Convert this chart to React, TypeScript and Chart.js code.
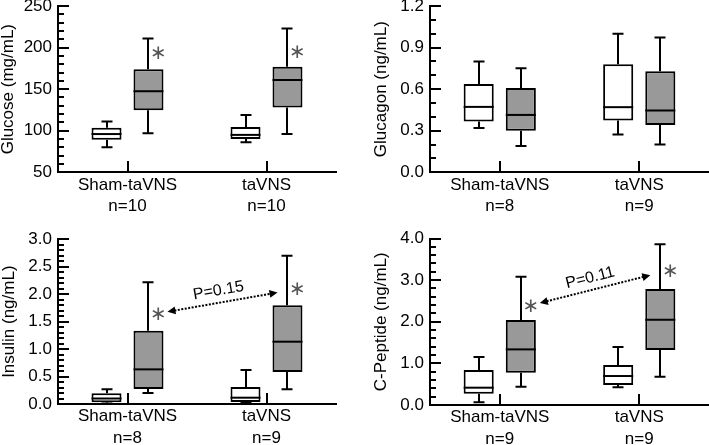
import React, { useEffect, useRef } from "react";
import { Chart, registerables } from "chart.js";

Chart.register(...registerables);

const W = 709;
const H = 445;
const FONT = '"Liberation Sans", Arial, Helvetica, sans-serif';

// ---------- data ----------
const categories = ["Sham-taVNS", "taVNS"];

// each box: [min, q1, median, q3, max]
const glucoseWhite = [[80, 89, 96, 103.5, 111], [86, 90, 95, 104.5, 119]];
const glucoseGrey = [[97, 124.5, 147.5, 174, 211], [96, 128, 161, 177, 223]];
const glucoseN = ["n=10", "n=10"];
const glucoseTicks = [50, 100, 150, 200, 250];
const glucoseStars = [194, 195];

const glucagonWhite = [[0.32, 0.367, 0.472, 0.637, 0.8], [0.273, 0.374, 0.47, 0.78, 1.0]];
const glucagonGrey = [[0.19, 0.3, 0.414, 0.609, 0.75], [0.201, 0.342, 0.446, 0.729, 0.973]];
const glucagonN = ["n=8", "n=9"];
const glucagonTicks = [0, 0.3, 0.6, 0.9, 1.2];

const insulinWhite = [[0.01, 0.03, 0.1, 0.195, 0.27], [0.02, 0.036, 0.115, 0.31, 0.62]];
const insulinGrey = [[0.2, 0.273, 0.631, 1.336, 2.216], [0.267, 0.583, 1.135, 1.8, 2.7]];
const insulinN = ["n=8", "n=9"];
const insulinTicks = [0, 0.5, 1.0, 1.5, 2.0, 2.5, 3.0];
const insulinStars = [1.65, 2.1];
const insulinArrow = [1.68, 2.03];
const insulinP = "P=0.15";

const cpeptideWhite = [[0.064, 0.272, 0.416, 0.84, 1.152], [0.424, 0.48, 0.696, 0.96, 1.392]];
const cpeptideGrey = [[0.44, 0.776, 1.336, 2.04, 3.08], [0.68, 1.32, 2.048, 2.784, 3.864]];
const cpeptideN = ["n=9", "n=9"];
const cpeptideTicks = [0, 1, 2, 3, 4];
const cpeptideStars = [2.4, 3.22];
const cpeptideArrow = [2.45, 3.12];
const cpeptideP = "P=0.11";

// ---------- panels (layout in page pixels) ----------
type Panel = {
  title: string;
  white: number[][];
  grey: number[][];
  n: string[];
  ticks: number[];
  minor: number;
  decimals: number;
  stars?: number[];
  arrow?: number[];
  pText?: string;
  cx: number;
  cy: number;
  cw: number;
  ch: number;
  left: number;
  right: number;
  top: number;
  bottom: number;
  titlePad: number;
};

const panels: Panel[] = [
  {
    title: "Glucose (mg/mL)", white: glucoseWhite, grey: glucoseGrey, n: glucoseN,
    ticks: glucoseTicks, minor: 10, decimals: 0, stars: glucoseStars,
    cx: 0, cy: 0, cw: 355, ch: 222, left: 58, right: 336, top: 6, bottom: 172.3, titlePad: 0,
  },
  {
    title: "Glucagon (ng/mL)", white: glucagonWhite, grey: glucagonGrey, n: glucagonN,
    ticks: glucagonTicks, minor: 0.1, decimals: 1,
    cx: 355, cy: 0, cw: 354, ch: 222, left: 430, right: 709, top: 6, bottom: 172.3, titlePad: 17.5,
  },
  {
    title: "Insulin (ng/mL)", white: insulinWhite, grey: insulinGrey, n: insulinN,
    ticks: insulinTicks, minor: 0.1, decimals: 1, stars: insulinStars, arrow: insulinArrow, pText: insulinP,
    cx: 0, cy: 222, cw: 355, ch: 223, left: 58, right: 336, top: 239.3, bottom: 404, titlePad: 1,
  },
  {
    title: "C-Peptide (ng/mL)", white: cpeptideWhite, grey: cpeptideGrey, n: cpeptideN,
    ticks: cpeptideTicks, minor: 0.2, decimals: 1, stars: cpeptideStars, arrow: cpeptideArrow, pText: cpeptideP,
    cx: 355, cy: 222, cw: 354, ch: 223, left: 430, right: 709, top: 238.5, bottom: 405, titlePad: 17.5,
  },
];

const XH = 40;
const CAP = 11;
const STAR_DX = 10;

function drawArrowHead(ctx: CanvasRenderingContext2D, x: number, y: number, ang: number) {
  const L = 8, hw = 4;
  ctx.beginPath();
  ctx.moveTo(x, y);
  ctx.lineTo(x - L * Math.cos(ang) + hw * Math.sin(ang), y - L * Math.sin(ang) - hw * Math.cos(ang));
  ctx.lineTo(x - L * Math.cos(ang) - hw * Math.sin(ang), y - L * Math.sin(ang) + hw * Math.cos(ang));
  ctx.closePath();
  ctx.fill();
}

// inward axis ticks, positioned through the chart's own scales
function drawInwardTicks(ctx: CanvasRenderingContext2D, chart: any, p: Panel) {
  const ys = chart.scales.y;
  const xs = chart.scales.x;
  const majorLen = 11;
  const minorLen = 6;
  const catLen = 11;
  const min = p.ticks[0];
  const max = p.ticks[p.ticks.length - 1];
  const step = p.ticks[1] - p.ticks[0];
  const count = Math.round((max - min) / p.minor);
  const lx = Math.round(Number(xs.left));
  const by = Math.round(Number(ys.bottom));
  ctx.save();
  ctx.fillStyle = "#000";
  for (let k = 0; k <= count; k++) {
    const v = min + k * p.minor;
    const r = (v - min) / step;
    const isMajor = Math.abs(r - Math.round(r)) < 1e-6;
    const yy = Math.round(Number(ys.getPixelForValue(v)));
    ctx.fillRect(lx, yy - 1, isMajor ? majorLen : minorLen, 2);
  }
  for (let i = 0; i < categories.length; i++) {
    const xx = Math.round(Number(xs.getPixelForValue(i)));
    ctx.fillRect(xx - 1, by - catLen, 2, catLen);
  }
  ctx.restore();
}

function makePlugin(p: Panel) {
  return {
    id: "boxExtras",
    beforeDatasetsDraw(chart: any) {
      const ctx: CanvasRenderingContext2D = chart.ctx;
      const ys = chart.scales.y;
      ctx.save();
      ctx.strokeStyle = "#000";
      ctx.lineWidth = 2;
      [p.white, p.grey].forEach((boxes, di) => {
        const meta = chart.getDatasetMeta(di);
        boxes.forEach((b, i) => {
          const x = Math.round(meta.data[i].x);
          const yMin = ys.getPixelForValue(b[0]);
          const yQ1 = ys.getPixelForValue(b[1]);
          const yQ3 = ys.getPixelForValue(b[3]);
          const yMax = ys.getPixelForValue(b[4]);
          ctx.beginPath();
          ctx.moveTo(x, yQ3);
          ctx.lineTo(x, yMax);
          ctx.moveTo(x - CAP / 2, yMax);
          ctx.lineTo(x + CAP / 2, yMax);
          ctx.moveTo(x, yQ1);
          ctx.lineTo(x, yMin);
          ctx.moveTo(x - CAP / 2, yMin);
          ctx.lineTo(x + CAP / 2, yMin);
          ctx.stroke();
        });
      });
      ctx.restore();
    },
    afterDatasetsDraw(chart: any) {
      const ctx: CanvasRenderingContext2D = chart.ctx;
      const ys = chart.scales.y;
      ctx.save();
      ctx.strokeStyle = "#000";
      ctx.lineWidth = 2;
      [p.white, p.grey].forEach((boxes, di) => {
        const meta = chart.getDatasetMeta(di);
        boxes.forEach((b, i) => {
          const el = meta.data[i];
          const ym = ys.getPixelForValue(b[2]);
          ctx.beginPath();
          ctx.moveTo(el.x - el.width / 2, ym);
          ctx.lineTo(el.x + el.width / 2, ym);
          ctx.stroke();
        });
      });
      ctx.restore();
    },
    afterDraw(chart: any) {
      const ctx: CanvasRenderingContext2D = chart.ctx;
      const ys = chart.scales.y;
      ctx.save();
      const greyMeta = chart.getDatasetMeta(1);
      if (p.stars) {
        ctx.fillStyle = "#555";
        ctx.font = '20px "DejaVu Sans"';
        ctx.textAlign = "center";
        ctx.textBaseline = "alphabetic";
        const m = ctx.measureText("∗");
        const off = (m.actualBoundingBoxAscent - m.actualBoundingBoxDescent) / 2;
        p.stars.forEach((v, i) => {
          const sx = greyMeta.data[i].x + STAR_DX;
          const sy = ys.getPixelForValue(v);
          ctx.fillText("∗", sx, sy + off);
        });
      }
      if (p.arrow && p.pText) {
        const x1 = greyMeta.data[0].x + 19;
        const y1 = ys.getPixelForValue(p.arrow[0]);
        const x2 = greyMeta.data[1].x - 10;
        const y2 = ys.getPixelForValue(p.arrow[1]);
        const ang = Math.atan2(y2 - y1, x2 - x1);
        const c = Math.cos(ang), s = Math.sin(ang);
        ctx.fillStyle = "#000";
        ctx.strokeStyle = "#000";
        ctx.lineWidth = 2;
        ctx.setLineDash([2, 1.5]);
        ctx.beginPath();
        ctx.moveTo(x1 + 7 * c, y1 + 7 * s);
        ctx.lineTo(x2 - 7 * c, y2 - 7 * s);
        ctx.stroke();
        ctx.setLineDash([]);
        drawArrowHead(ctx, x2, y2, ang);
        drawArrowHead(ctx, x1, y1, ang + Math.PI);
        const mx = (x1 + x2) / 2 + 12 * s - 2 * c;
        const my = (y1 + y2) / 2 - 12 * c - 2 * s;
        ctx.translate(mx, my);
        ctx.rotate(ang);
        ctx.font = `16px ${FONT}`;
        ctx.textAlign = "center";
        ctx.textBaseline = "middle";
        ctx.fillText(p.pText, 0, 0);
      }
      ctx.restore();
    },
  };
}

function makeConfig(p: Panel): any {
  const min = p.ticks[0];
  const max = p.ticks[p.ticks.length - 1];
  const step = p.ticks[1] - p.ticks[0];
  const common = {
    borderColor: "#000",
    borderWidth: 2,
    borderSkipped: false,
    categoryPercentage: 0.604,
    barPercentage: 0.714,
  };
  const yW = p.left - p.cx;
  return {
    type: "bar",
    data: {
      labels: categories,
      datasets: [
        { label: "white", data: p.white.map((b) => [b[1], b[3]]), backgroundColor: "#ffffff", ...common },
        { label: "grey", data: p.grey.map((b) => [b[1], b[3]]), backgroundColor: "#999999", ...common },
      ],
    },
    options: {
      responsive: false,
      animation: false,
      events: [],
      layout: {
        autoPadding: false,
        padding: {
          left: 0,
          right: p.cx + p.cw - p.right,
          top: p.top - p.cy,
          bottom: p.cy + p.ch - p.bottom - XH,
        },
      },
      plugins: { legend: { display: false }, tooltip: { enabled: false } },
      scales: {
        x: {
          type: "category",
          offset: true,
          grid: { display: false, drawTicks: false },
          border: { display: true, width: 2, color: "#000" },
          ticks: {
            color: "#000",
            padding: 2,
            maxRotation: 0,
            autoSkip: false,
            font: { family: FONT, size: 17, lineHeight: 1.27 },
            callback: (_v: any, i: number) => [categories[i], p.n[i]],
          },
          afterFit: (s: any) => {
            s.height = XH;
            s.paddingLeft = 0;
            s.paddingRight = 0;
          },
        },
        y: {
          type: "linear",
          min,
          max,
          grid: { display: false, drawTicks: false },
          border: { display: true, width: 2, color: "#000" },
          ticks: {
            stepSize: step,
            color: "#000",
            padding: 6,
            font: { family: FONT, size: 17, lineHeight: 0.7 },
            callback: (v: any) => Number(v).toFixed(p.decimals),
          },
          title: {
            display: true,
            text: p.title,
            color: "#000",
            font: { family: FONT, size: 17, lineHeight: 1 },
            padding: { top: p.titlePad, bottom: 0 },
          },
          afterFit: (s: any) => {
            s.width = yW;
            s.paddingTop = 0;
            s.paddingBottom = 0;
          },
        },
      },
    },
    plugins: [makePlugin(p)],
  };
}

function PanelChart({ panel }: { panel: Panel }) {
  const ref = useRef<HTMLCanvasElement>(null);
  const ovRef = useRef<HTMLCanvasElement>(null);
  useEffect(() => {
    const chart = new Chart(ref.current as HTMLCanvasElement, makeConfig(panel));
    const ov = ovRef.current as HTMLCanvasElement;
    const octx = ov.getContext("2d") as CanvasRenderingContext2D;
    octx.clearRect(0, 0, ov.width, ov.height);
    drawInwardTicks(octx, chart, panel);
    return () => {
      chart.destroy();
      octx.clearRect(0, 0, ov.width, ov.height);
    };
  }, [panel]);
  const style: React.CSSProperties = {
    position: "absolute",
    left: panel.cx,
    top: panel.cy,
    width: panel.cw,
    height: panel.ch,
  };
  return (
    <>
      <canvas ref={ref} width={panel.cw} height={panel.ch} style={style} />
      <canvas ref={ovRef} width={panel.cw} height={panel.ch} style={{ ...style, pointerEvents: "none" }} />
    </>
  );
}

export default function App() {
  return (
    <div style={{ position: "fixed", left: 0, top: 0, width: W, height: H, background: "#fff", overflow: "hidden" }}>
      {panels.map((p, i) => (
        <PanelChart key={i} panel={p} />
      ))}
    </div>
  );
}
